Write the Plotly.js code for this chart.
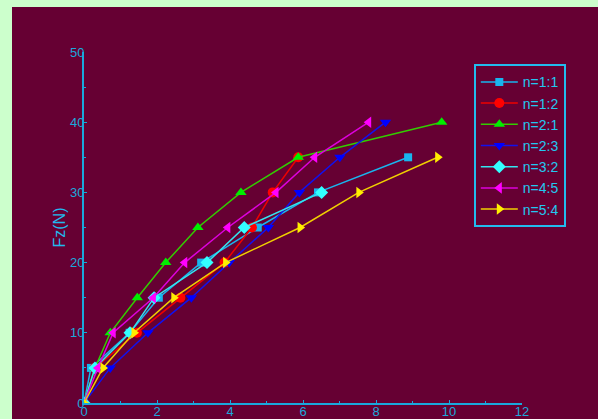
<!DOCTYPE html>
<html>
<head>
<meta charset="utf-8">
<script src="https://cdn.plot.ly/plotly-3.0.1.min.js"></script>
<style>
html,body{margin:0;padding:0;background:#ccffcc;width:598px;height:419px;overflow:hidden;}
#chart{position:absolute;left:12px;top:7px;width:586px;height:412px;}
</style>
</head>
<body>
<div id="chart"></div>
<script>
// Data (x: displacement, y: Fz in N)
const names = ["n=1:1","n=1:2","n=2:1","n=2:3","n=3:2","n=4:5","n=5:4"];
const x11 = [0,0.19,1.25,2.05,3.21,4.76,6.41,8.88];
const y11 = [0,5,10,15,20,25,30,35];
const x12 = [0,0.3,1.45,2.64,3.85,4.6,5.17,5.87];
const y12 = [0,5,10,15,20,25,30,35];
const x21 = [0,0.3,0.72,1.46,2.24,3.12,4.3,5.87,9.8];
const y21 = [0,5,10,15,20,25,30,35,40];
const x23 = [0,0.72,1.75,2.94,3.98,5.05,5.9,7.01,8.26];
const y23 = [0,5,10,15,20,25,30,35,40];
const x32 = [0,0.3,1.26,1.92,3.37,4.39,6.51];
const y32 = [0,5,10,15,20,25,30];
const x45 = [0,0.38,0.8,1.9,2.76,3.94,5.26,6.32,7.8];
const y45 = [0,5,10,15,20,25,30,35,40];
const x54 = [0,0.52,1.37,2.46,3.88,5.92,7.53,9.69];
const y54 = [0,5,10,15,20,25,30,35];

const xs = [x11,x12,x21,x23,x32,x45,x54];
const ys = [y11,y12,y21,y23,y32,y45,y54];
const colors = ["#19b5ee","#ff0000","#00ee00","#0000ff","#33ffff","#ff00ff","#ffee00"];
const lineColors = ["#19b5ee","#ee0000","#33cc00","#1111ee","#33e6f0","#dd00dd","#f0d000"];
const symbols = ["square","circle","triangle-up","triangle-down","diamond","triangle-left","triangle-right"];

const traces = names.map((n,i)=>({
  type:"scatter", mode:"lines+markers", name:n,
  x: xs[i], y: ys[i],
  line:{color:lineColors[i], width:1.5},
  marker:{color:colors[i], symbol:symbols[i], size: symbols[i]==="square"?8:10, line:{width:0}}
}));

const axisCol = "#1aa8dc";
const layout = {
  width:586, height:412,
  paper_bgcolor:"#660033", plot_bgcolor:"#660033",
  margin:{l:72,r:76,t:45,b:16},
  showlegend:true,
  legend:{x:0.89, xanchor:"left", y:0.965, yanchor:"top",
    bgcolor:"#660033", bordercolor:"#22bbee", borderwidth:2,
    itemwidth:37,
    font:{family:"Arial, Liberation Sans, sans-serif", size:14, color:"#22c8f0"},
    tracegroupgap:0},
  xaxis:{range:[0,12], dtick:2, tick0:0, showgrid:false, zeroline:false,
    showline:true, linecolor:axisCol, linewidth:2,
    ticks:"inside", ticklen:3, tickcolor:axisCol, ticklabelstandoff:-5,
    minor:{dtick:1, ticks:"inside", ticklen:2, tickcolor:axisCol},
    tickfont:{family:"Arial, Liberation Sans, sans-serif", size:13, color:axisCol}},
  yaxis:{range:[0,50], dtick:10, tick0:0, showgrid:false, zeroline:false,
    showline:true, linecolor:axisCol, linewidth:2,
    ticks:"inside", ticklen:3, tickcolor:axisCol, ticklabelstandoff:-5,
    minor:{dtick:5, ticks:"inside", ticklen:2, tickcolor:axisCol},
    tickfont:{family:"Arial, Liberation Sans, sans-serif", size:13, color:axisCol},
    title:{text:"Fz(N)", standoff:0, font:{family:"Arial, Liberation Sans, sans-serif", size:16, color:"#22b8ee"}}}
};
Plotly.newPlot("chart", traces, layout, {displayModeBar:false, staticPlot:true});
</script>
</body>
</html>
